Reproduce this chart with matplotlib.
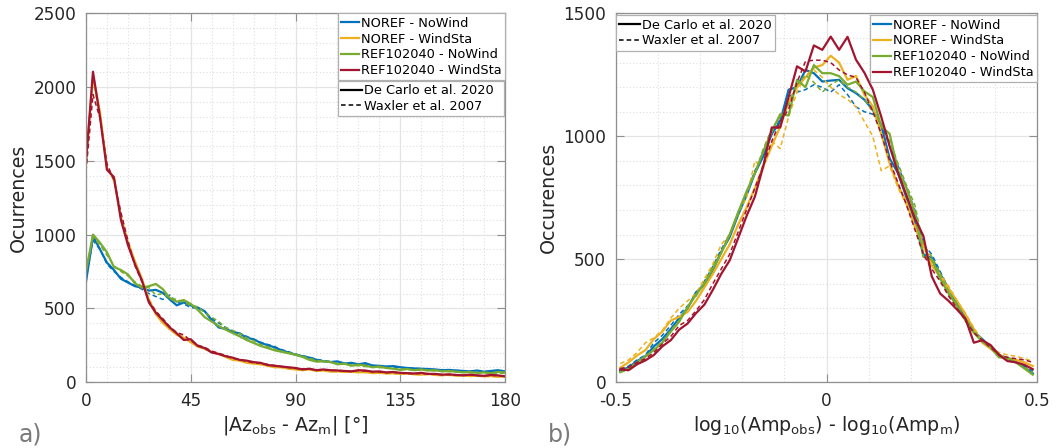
#!/usr/bin/env python3
"""Histograms of azimuth and amplitude residuals for the four model runs."""

import matplotlib
matplotlib.use("Agg")
import matplotlib.pyplot as plt
from matplotlib.lines import Line2D
from matplotlib.ticker import MultipleLocator
import numpy as np

RUNS = ["NOREF - NoWind", "NOREF - WindSta", "REF102040 - NoWind", "REF102040 - WindSta"]
MODELS = ["De Carlo et al. 2020", "Waxler et al. 2007"]

# ---- panel a: |Az_obs - Az_m| histogram (3 degree bins)
AZ = np.arange(0, 181, 3)

AZ_SOLID = [
    # NOREF - NoWind
    [680, 990, 900, 810, 760, 700, 675, 650, 640, 620, 625, 605, 560, 520, 540, 520,
     505, 480, 420, 370, 360, 340, 330, 300, 290, 265, 250, 235, 215, 200, 185, 175,
     165, 150, 140, 135, 140, 125, 130, 120, 128, 112, 110, 105, 108, 100, 95, 92,
     90, 88, 85, 80, 82, 78, 75, 72, 78, 70, 75, 80, 72],
    # NOREF - WindSta
    [1480, 2080, 1830, 1450, 1380, 1120, 950, 820, 700, 560, 460, 400, 360, 320, 300, 270,
     240, 225, 205, 190, 170, 150, 145, 130, 125, 120, 110, 100, 100, 90, 85, 80,
     85, 75, 78, 70, 72, 68, 70, 65, 68, 60, 62, 58, 60, 55, 58, 52,
     50, 55, 48, 45, 50, 42, 45, 40, 42, 38, 40, 35, 40],
    # REF102040 - NoWind
    [750, 1000, 945, 880, 780, 760, 730, 670, 640, 650, 665, 630, 570, 545, 556, 530,
     490, 440, 410, 380, 355, 332, 310, 285, 265, 245, 230, 215, 205, 195, 185, 170,
     150, 138, 140, 136, 120, 125, 110, 118, 112, 100, 105, 95, 90, 82, 88, 80,
     85, 78, 80, 72, 75, 70, 65, 68, 62, 65, 60, 68, 65],
    # REF102040 - WindSta
    [1500, 2105, 1800, 1440, 1390, 1100, 930, 800, 690, 540, 470, 420, 370, 330, 285, 290,
     245, 230, 200, 190, 175, 165, 150, 145, 135, 130, 115, 110, 105, 100, 95, 85,
     90, 80, 85, 80, 78, 75, 72, 80, 78, 70, 72, 65, 68, 62, 60, 58,
     62, 55, 55, 50, 52, 48, 45, 50, 45, 42, 48, 45, 38],
]

AZ_DASHED = [
    [700, 960, 900, 800, 750, 710, 680, 655, 630, 600, 580, 560, 590, 540, 530, 505,
     500, 480, 430, 400, 370, 345, 330, 310, 290, 270, 255, 240, 220, 205, 190, 178,
     168, 155, 145, 140, 135, 130, 125, 122, 118, 112, 108, 105, 102, 98, 96, 92,
     90, 86, 84, 82, 80, 78, 76, 74, 72, 72, 70, 70, 68],
    [1480, 2050, 1800, 1470, 1360, 1140, 940, 800, 690, 560, 480, 420, 350, 330, 310, 275,
     250, 225, 205, 190, 170, 155, 145, 135, 125, 118, 112, 105, 98, 92, 88, 84,
     82, 78, 76, 72, 70, 70, 68, 66, 64, 62, 60, 58, 56, 55, 54, 52,
     50, 50, 48, 46, 45, 44, 42, 42, 40, 40, 38, 38, 36],
    [760, 980, 930, 860, 790, 750, 720, 680, 650, 640, 590, 600, 570, 560, 540, 520,
     510, 470, 440, 410, 370, 350, 330, 300, 280, 255, 240, 222, 210, 198, 188, 175,
     160, 148, 140, 132, 125, 120, 115, 110, 105, 100, 98, 95, 92, 88, 85, 82,
     80, 78, 75, 72, 70, 68, 66, 64, 62, 62, 60, 60, 58],
    [1430, 1950, 1790, 1480, 1370, 1150, 960, 790, 680, 550, 480, 430, 375, 335, 320, 280,
     250, 235, 210, 195, 180, 160, 155, 140, 130, 128, 120, 112, 105, 98, 92, 90,
     88, 82, 85, 78, 80, 75, 72, 78, 74, 70, 68, 64, 66, 60, 58, 56,
     58, 54, 52, 50, 50, 47, 46, 48, 44, 42, 45, 43, 40],
]

# ---- panel b: log10 amplitude ratio histogram (0.02 bins)
AMP = np.round(np.arange(-0.49, 0.50, 0.02), 2)

AMP_SOLID = [
    [45, 60, 85, 105, 145, 175, 215, 260, 300, 365, 395, 455, 530, 590, 680, 760, 850,
     920, 1010, 1060, 1190, 1200, 1270, 1257, 1223, 1227, 1230, 1196, 1176, 1149, 1108,
     1045, 910, 850, 750, 650, 520, 505, 440, 380, 320, 260, 205, 175, 140, 110, 95, 80,
     60, 35],
    [58, 80, 108, 130, 175, 205, 250, 265, 285, 330, 385, 440, 500, 560, 640, 710, 790,
     880, 960, 1040, 1140, 1200, 1240, 1280, 1290, 1328, 1300, 1230, 1246, 1169, 1122,
     1010, 890, 800, 730, 630, 555, 475, 430, 380, 330, 275, 215, 160, 135, 110, 95, 90,
     80, 65],
    [40, 55, 80, 105, 130, 160, 205, 245, 305, 355, 400, 460, 525, 600, 690, 775, 850,
     940, 1020, 1090, 1085, 1230, 1200, 1290, 1257, 1257, 1245, 1210, 1223, 1183, 1160,
     1040, 1010, 860, 790, 690, 510, 500, 420, 360, 310, 250, 200, 165, 140, 100, 100, 80,
     55, 30],
    [51, 48, 72, 88, 110, 145, 170, 213, 238, 280, 315, 375, 440, 495, 585, 675, 755,
     880, 1036, 1036, 1160, 1285, 1264, 1370, 1352, 1406, 1352, 1405, 1312, 1259, 1190,
     1080, 960, 850, 760, 665, 595, 430, 360, 330, 295, 258, 160, 170, 150, 110, 85, 80,
     70, 52],
]

AMP_DASHED = [
    [50, 65, 90, 110, 160, 190, 230, 275, 310, 350, 410, 470, 540, 600, 690, 770, 860,
     930, 1010, 1070, 1160, 1180, 1190, 1210, 1200, 1180, 1210, 1170, 1120, 1100, 1090,
     1050, 960, 880, 790, 700, 560, 520, 450, 380, 320, 260, 210, 170, 145, 115, 95, 80,
     65, 45],
    [75, 90, 120, 160, 180, 210, 260, 300, 330, 360, 420, 480, 560, 600, 690, 750, 900,
     870, 980, 950, 1080, 1180, 1250, 1270, 1240, 1200, 1170, 1150, 1120, 1060, 1000,
     860, 880, 790, 720, 640, 560, 490, 440, 390, 330, 280, 220, 170, 140, 120, 110, 105,
     95, 85],
    [40, 50, 75, 100, 135, 165, 210, 250, 300, 355, 405, 470, 530, 600, 680, 770, 850,
     950, 1030, 1080, 1130, 1210, 1250, 1220, 1180, 1210, 1230, 1200, 1180, 1150, 1100,
     1050, 980, 890, 800, 720, 560, 510, 440, 370, 320, 260, 210, 170, 140, 110, 95, 80,
     60, 40],
    [55, 60, 80, 95, 120, 155, 185, 230, 250, 290, 335, 400, 460, 520, 610, 700, 790,
     880, 980, 1060, 1110, 1220, 1305, 1310, 1310, 1300, 1270, 1250, 1240, 1180, 1100,
     1010, 900, 810, 720, 620, 520, 460, 410, 350, 300, 250, 200, 170, 140, 110, 100, 95,
     90, 80],
]

COLORS = ["#0072BD", "#EDB120", "#77AC30", "#A2142F"]
TEXT = "#262626"
AXIS = "#8f8f8f"


def style_axes(ax, xmajor, xminor, ymajor, yminor):
    ax.xaxis.set_major_locator(MultipleLocator(xmajor))
    ax.xaxis.set_minor_locator(MultipleLocator(xminor))
    ax.yaxis.set_major_locator(MultipleLocator(ymajor))
    ax.yaxis.set_minor_locator(MultipleLocator(yminor))
    ax.grid(which="major", color="#e4e4e4", linewidth=0.9)
    ax.grid(which="minor", color="#dedede", linewidth=0.8, linestyle=(0, (1, 2)))
    ax.set_axisbelow(True)
    ax.tick_params(which="major", direction="in", length=6, width=0.8, color=AXIS,
                   top=True, right=True, labelsize=12.2, labelcolor=TEXT, pad=7)
    ax.tick_params(which="minor", length=0)
    for spine in ax.spines.values():
        spine.set_color(AXIS)
        spine.set_linewidth(0.9)


def draw_runs(ax, x, solid, dashed):
    for color, ys, yd in zip(COLORS, solid, dashed):
        ax.plot(x, ys, color=color, linewidth=1.6)
        ax.plot(x, yd, color=color, linewidth=1.1, linestyle=(0, (3, 2)))


def legend_kw():
    return dict(fontsize=9.3, handletextpad=0.15, labelspacing=0.22, borderpad=0.25,
                borderaxespad=0, fancybox=False, framealpha=1, edgecolor="#b0b0b0")


def run_legend(ax, anchor):
    handles = [Line2D([], [], color=c, linewidth=1.6) for c in COLORS]
    leg = ax.legend(handles, RUNS, loc="upper right", bbox_to_anchor=anchor,
                    handlelength=1.4, **legend_kw())
    leg.get_frame().set_linewidth(0.9)
    return leg


def model_legend(ax, loc, anchor, mode=None):
    handles = [Line2D([], [], color="black", linewidth=1.6),
               Line2D([], [], color="black", linewidth=1.1, linestyle=(0, (3, 2)))]
    leg = ax.legend(handles, MODELS, loc=loc, bbox_to_anchor=anchor, mode=mode,
                    handlelength=1.6, **legend_kw())
    leg.get_frame().set_linewidth(0.9)
    return leg


def main() -> None:
    fig = plt.figure(figsize=(10.58, 4.48), dpi=100)
    ax1 = fig.add_axes([86 / 1058, 66 / 448, 419 / 1058, 368.5 / 448])
    ax2 = fig.add_axes([616 / 1058, 66 / 448, 421 / 1058, 368.5 / 448])

    # panel a
    draw_runs(ax1, AZ, AZ_SOLID, AZ_DASHED)
    ax1.set_xlim(0, 180)
    ax1.set_ylim(0, 2500)
    style_axes(ax1, 45, 9, 500, 100)
    ax1.set_ylabel("Ocurrences", fontsize=13.7, color=TEXT, labelpad=4)
    ax1.set_xlabel(r"|Az$_{\mathrm{obs}}$ - Az$_{\mathrm{m}}$| [°]", fontsize=13.7,
                   color=TEXT, labelpad=3)
    leg = run_legend(ax1, (1.0, 1.0))
    ax1.add_artist(leg)
    model_legend(ax1, "upper left", (0.601, 0.0, 0.397, 0.817), mode="expand")

    # panel b
    draw_runs(ax2, AMP, AMP_SOLID, AMP_DASHED)
    ax2.set_xlim(-0.5, 0.5)
    ax2.set_ylim(0, 1500)
    style_axes(ax2, 0.5, 0.1, 500, 100)
    ax2.set_ylabel("Occurences", fontsize=13.7, color=TEXT, labelpad=4)
    ax2.set_xlabel(r"log$_{10}$(Amp$_{\mathrm{obs}}$) - log$_{10}$(Amp$_{\mathrm{m}}$)",
                   fontsize=13.7, color=TEXT, labelpad=3)
    ax2.set_xticks([-0.5, 0, 0.5], ["-0.5", "0", "0.5"])
    leg = run_legend(ax2, (1.0, 0.995))
    ax2.add_artist(leg)
    model_legend(ax2, "upper left", (0.0, 0.995))

    fig.text(30 / 1058, 1 - 434 / 448, "a)", fontsize=17, color="#7a7a7a",
             ha="center", va="center")
    fig.text(560 / 1058, 1 - 434 / 448, "b)", fontsize=17, color="#7a7a7a",
             ha="center", va="center")

    fig.savefig("out.png", dpi=100, facecolor="white")
    plt.close(fig)


if __name__ == "__main__":
    main()
